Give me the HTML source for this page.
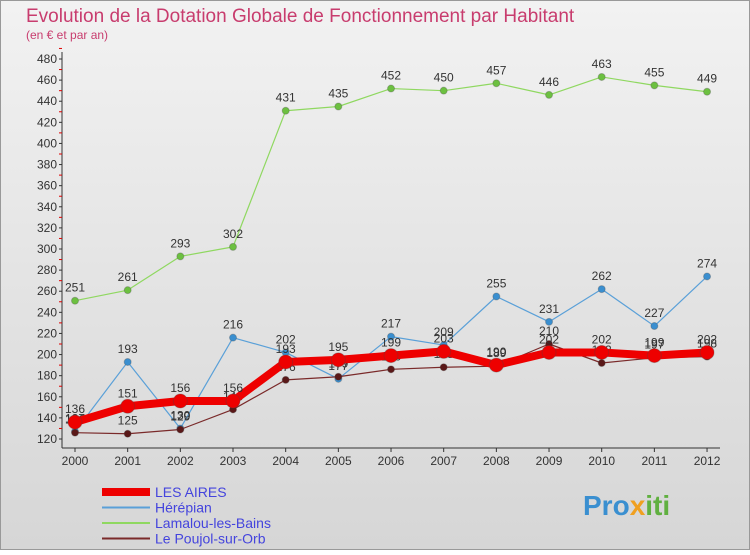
<!DOCTYPE html>
<html><head><meta charset="utf-8"><style>
body{margin:0;width:750px;height:550px;overflow:hidden;font-family:"Liberation Sans",sans-serif}
</style></head><body>
<svg width="750" height="550" xmlns="http://www.w3.org/2000/svg">
<defs><linearGradient id="bg" x1="0" y1="0" x2="0" y2="1"><stop offset="0" stop-color="#f2f2f2"/><stop offset="1" stop-color="#d6d6d6"/></linearGradient></defs>
<rect x="0.5" y="0.5" width="749" height="549" fill="url(#bg)" stroke="#999"/>
<text x="26" y="22" font-size="19" fill="#c83c6e">Evolution de la Dotation Globale de Fonctionnement par Habitant</text>
<text x="26" y="39" font-size="12" fill="#c83c6e">(en € et par an)</text>
<g id="axes"></g><g id="series"></g><g id="legend"></g>
<text x="583" y="515" font-size="28" font-weight="bold" fill="#3a8fd0">Pro<tspan fill="#f0a020">x</tspan><tspan fill="#60b040">iti</tspan></text>
</svg>
<script>
const years=[2000,2001,2002,2003,2004,2005,2006,2007,2008,2009,2010,2011,2012];
const yTicks=[120,140,160,180,200,220,240,260,280,300,320,340,360,380,400,420,440,460,480];
const lesAires=[136,151,156,156,193,195,199,203,190,202,202,199,202];
const herepian=[127,193,130,216,202,177,217,209,255,231,262,227,274];
const lamalou=[251,261,293,302,431,435,452,450,457,446,463,455,449];
const poujol=[126,125,129,148,176,179,186,188,189,210,192,197,198];
const NS="http://www.w3.org/2000/svg";
const xS=i=>75+i*52.67, yS=v=>439-(v-120)*380/360;
function mk(t,a,p){const e=document.createElementNS(NS,t);for(const k in a)e.setAttribute(k,a[k]);p.appendChild(e);return e;}
const ax=document.getElementById('axes');
const yl=mk('line',{x1:62,y1:52,x2:62,y2:448,stroke:'#333'},ax);


const xl=mk('line',{x1:62,y1:448,x2:720,y2:448,stroke:'#333'},ax);


yTicks.forEach(v=>{const t=mk('text',{x:57,y:yS(v)+4,'font-size':12,'text-anchor':'end',fill:'#333'},ax);t.textContent=v;


mk('line',{x1:59,y1:yS(v),x2:62,y2:yS(v),stroke:'#333'},ax);
mk('line',{x1:59,y1:yS(v+10),x2:62,y2:yS(v+10),stroke:'#d00'},ax);});
years.forEach((y,i)=>{const t=mk('text',{x:xS(i),y:465,'font-size':12,'text-anchor':'middle',fill:'#333'},ax);t.textContent=y;


mk('line',{x1:xS(i),y1:448,x2:xS(i),y2:452,stroke:'#333'},ax);});
const sg=document.getElementById('series');
const defs=[[lamalou,'#8fd860','#6cc040',1.2,3.5,'lamalou'],[herepian,'#5aa0d8','#3a8fd0',1.2,3.5,'herepian'],[poujol,'#7a2a2a','#5a1818',1.2,3.5,'poujol'],[lesAires,'#ee0000','#ee0000',8,7,'les-aires']];
defs.forEach(([d,c,fc,w,r,n])=>{const g=mk('g',{},sg);


mk('polyline',{points:d.map((v,i)=>xS(i)+','+yS(v)).join(' '),fill:'none',stroke:c,'stroke-width':w,'stroke-linejoin':'round'},g);
d.forEach((v,i)=>{const p=mk('circle',{cx:xS(i),cy:yS(v),r:r,fill:fc,stroke:'#444','stroke-opacity':.3},g);


const t=mk('text',{x:xS(i),y:yS(v)-9,'font-size':12,'text-anchor':'middle',fill:'#333'},g);t.textContent=v;

});});
const lg=document.getElementById('legend');
[['LES AIRES','#ee0000',8],['Hérépian','#5aa0d8',2],['Lamalou-les-Bains','#8fd860',2],['Le Poujol-sur-Orb','#7a2a2a',2]].forEach(([n,c,w],i)=>{
const y=492+i*15.5;const g=mk('g',{},lg);


mk('line',{x1:102,y1:y,x2:150,y2:y,stroke:c,'stroke-width':w},g);
const t=mk('text',{x:155,y:y+5,'font-size':14,fill:'#4444dd'},g);t.textContent=n;});
</script>
</body></html>
